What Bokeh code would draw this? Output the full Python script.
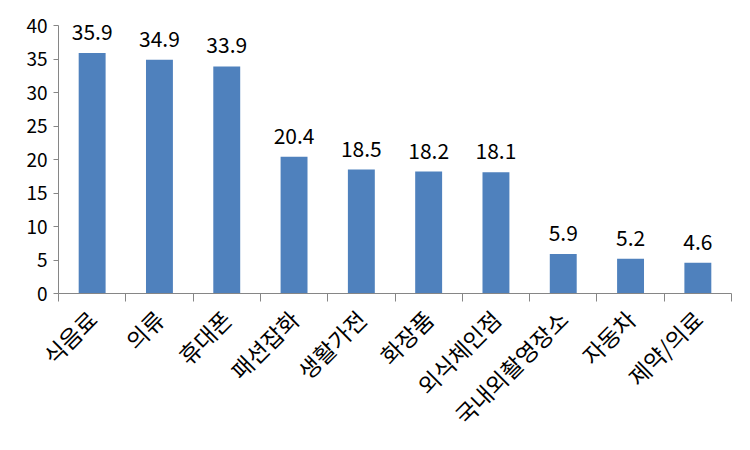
import math
from bokeh.plotting import figure
from bokeh.models import Range1d, FixedTicker, ColumnDataSource
from bokeh.core.properties import value
from bokeh.embed import file_html
from bokeh.resources import INLINE

categories = ["식음료", "의류", "휴대폰", "패션잡화", "생활가전", "화장품", "외식체인점", "국내외촬영장소", "자동차", "제약/의료"]
values = [35.9, 34.9, 33.9, 20.4, 18.5, 18.2, 18.1, 5.9, 5.2, 4.6]
y_ticks = [0, 5, 10, 15, 20, 25, 30, 35, 40]

FONT = "Noto Sans CJK KR"
BAR = "#4F81BD"
AXIS = "#868686"

n = len(categories)
xs = [i + 0.5 for i in range(n)]
bounds = list(range(n + 1))
src = ColumnDataSource(dict(x=xs, top=values, lab=[f"{v:.1f}" for v in values]))

p = figure(width=734, height=450, output_backend="svg", toolbar_location=None,
           x_range=Range1d(0, n), y_range=Range1d(0, 43),
           min_border_left=58, min_border_right=3, min_border_top=5, min_border_bottom=157)
p.outline_line_color = None
p.xgrid.visible = False
p.ygrid.visible = False

p.vbar(x="x", top="top", width=0.4, bottom=0, source=src, fill_color=BAR, line_color=None)
p.text(x="x", y="top", text="lab", source=src, text_align="center", text_baseline="alphabetic",
       y_offset=-21, text_font=value(FONT), text_font_size="21px", text_color="black")

# y axis
ya = p.yaxis[0]
ya.ticker = FixedTicker(ticks=y_ticks)
ya.bounds = (0, 40)
ya.axis_line_color = AXIS
ya.major_tick_line_color = AXIS
ya.major_tick_out = 5
ya.major_tick_in = 0
ya.minor_tick_line_color = None
ya.major_label_text_font = FONT
ya.major_label_text_font_size = "19px"
ya.major_label_text_color = "black"
ya.major_label_standoff = 6

# x axis: labels at category centres, boundary ticks as minor ticks
xa = p.xaxis[0]
xa.ticker = FixedTicker(ticks=xs, minor_ticks=bounds)
xa.major_label_overrides = {x: c for x, c in zip(xs, categories)}
xa.major_label_orientation = math.pi / 4
xa.major_label_text_font = FONT
xa.major_label_text_font_size = "23px"
xa.major_label_text_color = "black"
xa.major_label_standoff = 13
xa.axis_line_color = AXIS
xa.major_tick_line_color = None
xa.major_tick_out = 8
xa.major_tick_in = 0
xa.minor_tick_line_color = AXIS
xa.minor_tick_out = 8
xa.minor_tick_in = 0

open("out.html", "w").write(file_html(p, INLINE))
